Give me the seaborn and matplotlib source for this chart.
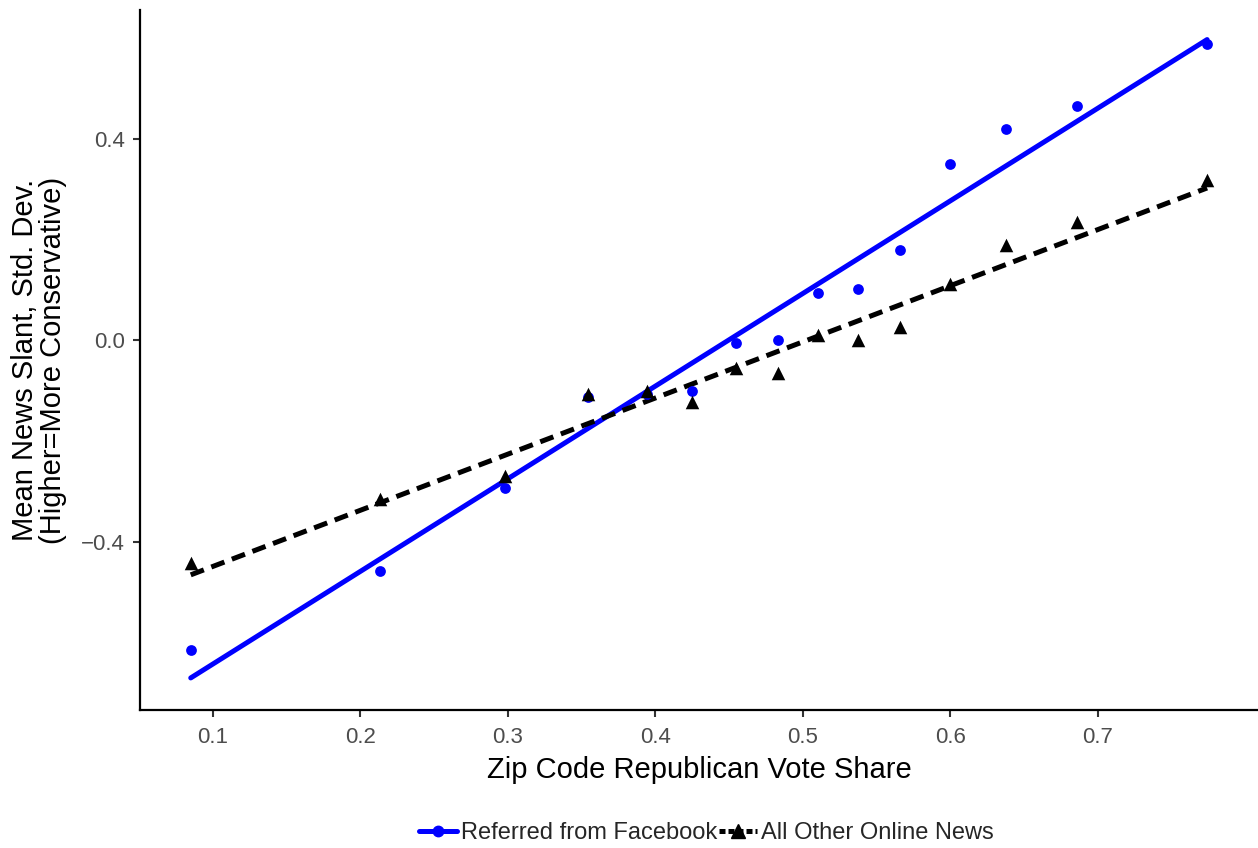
import numpy as np
import pandas as pd
import matplotlib
matplotlib.use("Agg")
import matplotlib.pyplot as plt
from matplotlib.lines import Line2D
import seaborn as sns

# Zip-code bins: Republican vote share
vote_share = [0.085, 0.2135, 0.298, 0.354, 0.394, 0.425, 0.4547, 0.483, 0.510,
              0.537, 0.566, 0.600, 0.638, 0.686, 0.774]
# Mean slant of news referred from Facebook
facebook_slant = [-0.616, -0.459, -0.293, -0.112, -0.106, -0.100, -0.005, 0.000,
                  0.094, 0.102, 0.180, 0.351, 0.421, 0.467, 0.589]
# Mean slant of all other online news
other_slant = [-0.443, -0.315, -0.269, -0.106, -0.100, -0.122, -0.054, -0.064,
               0.010, 0.000, 0.026, 0.112, 0.190, 0.235, 0.319]

series_names = ["Referred from Facebook", "All Other Online News"]
x_ticks = [0.1, 0.2, 0.3, 0.4, 0.5, 0.6, 0.7]
y_ticks = [-0.4, 0.0, 0.4]

df = pd.DataFrame({"share": vote_share, "fb": facebook_slant, "other": other_slant})

sns.set_theme(style="ticks")
plt.rcParams["font.family"] = ["Liberation Sans", "DejaVu Sans"]

fig = plt.figure(figsize=(12.58, 8.48), dpi=100)
ax = fig.add_axes([140 / 1258, 1 - 710 / 848, 1 - 140 / 1258, 700 / 848])

sns.regplot(data=df, x="share", y="fb", ax=ax, ci=None, color="#0000FF",
            marker="o", scatter_kws={"s": 60, "linewidths": 0, "alpha": 1, "zorder": 3},
            line_kws={"lw": 3.6, "zorder": 2})
sns.regplot(data=df, x="share", y="other", ax=ax, ci=None, color="black",
            marker="^", scatter_kws={"s": 95, "linewidths": 0, "alpha": 1, "zorder": 4},
            line_kws={"lw": 3.6, "linestyle": (0, (2.8, 1.6)), "zorder": 2})

ax.set_xlim(0.0506, 0.8085)
ax.set_ylim(-0.735, 0.657)
ax.set_xticks(x_ticks)
ax.set_xticklabels([f"{t:.1f}" for t in x_ticks])
ax.set_yticks(y_ticks)
ax.set_yticklabels(["\u22120.4", "0.0", "0.4"])
ax.tick_params(axis="both", colors="#333333", labelcolor="#4D4D4D",
               labelsize=16, length=5, width=1.5)
ax.tick_params(axis="x", pad=7)
ax.tick_params(axis="y", pad=6)

for side in ["top", "right"]:
    ax.spines[side].set_visible(False)
for side in ["left", "bottom"]:
    ax.spines[side].set_color("black")
    ax.spines[side].set_linewidth(1.6)

ax.set_xlabel("Zip Code Republican Vote Share", fontsize=21, color="black", labelpad=6)
ax.set_ylabel("Mean News Slant, Std. Dev.\n(Higher=More Conservative)",
              fontsize=21, color="black", labelpad=10, linespacing=1.0)

handles = [
    Line2D([], [], color="#0000FF", lw=3.6, marker="o", markersize=7.5),
    Line2D([], [], color="black", lw=3.6, linestyle=(0, (1.2, 0.6)), marker="^", markersize=10),
]
fig.legend(handles, series_names, loc="center", bbox_to_anchor=(0.5615, 1 - 833 / 848),
           ncol=2, frameon=False, fontsize=17, handlelength=1.6, handletextpad=0.15,
           columnspacing=0.1, borderpad=0)

fig.savefig("out.png", dpi=100, facecolor="white")
